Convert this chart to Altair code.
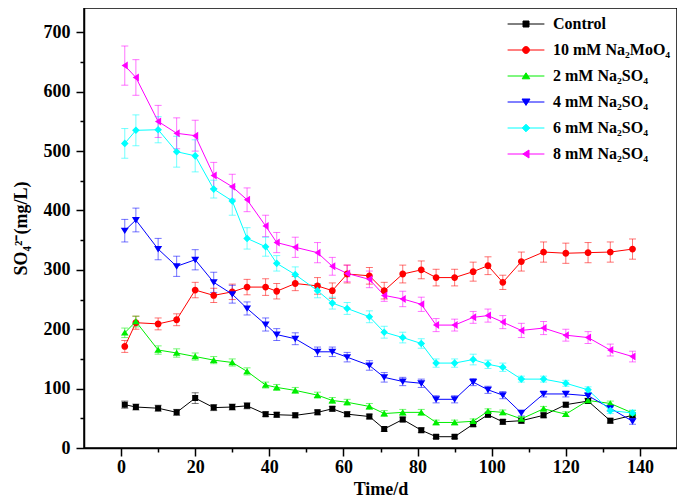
import altair as alt
import pandas as pd

TIME = [1, 4, 10, 15, 20, 25, 30, 34, 39, 42, 47, 53, 57, 61, 67, 71, 76, 81, 85,
        90, 95, 99, 103, 108, 114, 120, 126, 132, 138]

SERIES = ["Control", "10 mM Na₂MoO₄", "2 mM Na₂SO₄", "4 mM Na₂SO₄",
          "6 mM Na₂SO₄", "8 mM Na₂SO₄"]

CONTROL = [73, 69, 67, 60, 84, 68, 69, 71, 57, 56, 55, 60, 66, 57, 53, 32, 48, 30, 19,
           19, 40, 56, 44, 46, 55, 73, 79, 46, 55]
CONTROL_ERR = [6, 5, 5, 5, 9, 5, 5, 5, 4, 4, 4, 4, 4, 4, 4, 4, 4, 4, 3,
               3, 4, 4, 4, 4, 4, 4, 4, 4, 4]

MOO4 = [171, 211, 209, 216, 266, 257, 263, 271, 271, 264, 277, 273, 265, 293, 290, 265,
        293, 300, 287, 287, 297, 307, 279, 314, 330, 328, 329, 330, 335]
MOO4_ERR = [10, 11, 10, 10, 13, 12, 13, 13, 14, 13, 12, 14, 13, 15, 14, 14,
            15, 15, 14, 14, 16, 15, 12, 16, 17, 17, 17, 17, 17]

SO4_2 = [194, 213, 165, 160, 154, 148, 144, 129, 106, 102, 97, 89, 80, 77, 70, 58,
         60, 60, 43, 43, 45, 62, 60, 49, 66, 57, 80, 75, 59]
SO4_2_ERR = [8, 9, 7, 7, 6, 6, 6, 6, 5, 5, 5, 5, 5, 5, 5, 5,
             5, 5, 4, 4, 4, 4, 4, 4, 4, 4, 4, 4, 4]

SO4_4 = [366, 384, 335, 306, 317, 279, 259, 235, 208, 191, 184, 162, 162, 153, 139, 119,
         112, 109, 82, 82, 111, 98, 89, 59, 91, 91, 88, 67, 45]
SO4_4_ERR = [19, 20, 18, 17, 17, 17, 15, 11, 11, 10, 10, 8, 8, 8, 8, 8,
             7, 7, 6, 6, 6, 6, 6, 5, 5, 5, 5, 5, 5]

SO4_6 = [513, 535, 536, 499, 492, 436, 416, 353, 339, 311, 292, 265, 244, 235, 221, 195,
         186, 176, 143, 143, 149, 141, 136, 116, 116, 109, 98, 63, 59]
SO4_6_ERR = [25, 26, 22, 26, 27, 15, 24, 18, 16, 13, 13, 12, 10, 10, 10, 10,
             9, 8, 7, 7, 9, 7, 7, 5, 5, 5, 5, 5, 5]

SO4_8 = [644, 624, 550, 530, 526, 459, 440, 418, 374, 346, 338, 329, 306, 294, 284, 257,
         251, 242, 207, 207, 220, 223, 212, 198, 202, 190, 186, 165, 154]
SO4_8_ERR = [33, 30, 27, 26, 26, 22, 21, 20, 18, 17, 17, 17, 15, 14, 14, 10,
             13, 12, 11, 10, 10, 11, 11, 12, 11, 10, 10, 10, 9]

COLORS = ["#000000", "#ff0000", "#00ee00", "#0000ff", "#00ffff", "#ff00ff"]

# marker outlines (unit coordinates, scaled by the mark size); the leading open
# segment is only visible where the symbol is stroked (the legend entries)
LEG = "M-4.6,0H4.6"
SHAPES = [
    LEG + "M-0.75,-0.75H0.75V0.75H-0.75Z",
    LEG + "M-0.85,0A0.85,0.85,0,1,1,0.85,0A0.85,0.85,0,1,1,-0.85,0Z",
    LEG + "M0,-0.8L0.95,0.7H-0.95Z",
    LEG + "M0,0.85L1,-0.75H-1Z",
    LEG + "M0,-0.95L0.95,0L0,0.95L-0.95,0Z",
    LEG + "M-0.8,0L0.75,-1V1Z",
]

VALUES = [CONTROL, MOO4, SO4_2, SO4_4, SO4_6, SO4_8]
ERRORS = [CONTROL_ERR, MOO4_ERR, SO4_2_ERR, SO4_4_ERR, SO4_6_ERR, SO4_8_ERR]

rows = []
for k, (name, vals, errs) in enumerate(zip(SERIES, VALUES, ERRORS)):
    for t, v, e in zip(TIME, vals, errs):
        rows.append({"series": name, "order": k, "time": t, "value": v,
                     "lo": v - e, "hi": v + e})
df = pd.DataFrame(rows)

FONT = "Liberation Serif"
Y_TITLE = "SO₄²⁻(mg/L)"

color_scale = alt.Scale(domain=SERIES, range=COLORS)
shape_scale = alt.Scale(domain=SERIES, range=SHAPES)
y_scale = alt.Scale(domain=[0, 741], nice=False, zero=False)

x_axis = alt.Axis(
    values=list(range(0, 141, 10)),
    labelExpr="datum.value % 20 === 0 ? datum.label : ''",
    tickSize={"condition": {"test": "datum.value % 20 === 0", "value": 8}, "value": 4},
    labelPadding=2, titlePadding=4, labelOverlap=False,
)
y_axis = alt.Axis(
    values=list(range(0, 701, 50)),
    labelExpr="datum.value % 100 === 0 ? datum.label : ''",
    tickSize={"condition": {"test": "datum.value % 100 === 0", "value": 8}, "value": 4},
    labelPadding=6, titlePadding=13, labelOverlap=False,
)

X = alt.X("time:Q", scale=alt.Scale(domain=[-10, 150], nice=False, zero=False),
          axis=x_axis, title="Time/d")

legend = alt.Legend(
    orient="none", legendX=434, legendY=8, title=None,
    labelFont=FONT, labelFontWeight="bold", labelFontSize=16, labelColor="black",
    symbolSize=64, symbolOffset=0, labelOffset=19, rowPadding=10, padding=0,
    symbolStrokeWidth=1, symbolOpacity=1,
)


def Y(field):
    return alt.Y(field, scale=y_scale, axis=y_axis, title=Y_TITLE)


def C():
    return alt.Color("series:N", scale=color_scale, legend=legend)


base = alt.Chart(df)

err_rule = base.mark_rule(strokeWidth=1, opacity=0.55).encode(
    x=X, y=Y("lo:Q"), y2="hi:Q", color=C(),
)
cap_lo = base.mark_tick(orient="horizontal", size=7, thickness=1, opacity=0.55).encode(
    x=X, y=Y("lo:Q"), color=C(),
)
cap_hi = base.mark_tick(orient="horizontal", size=7, thickness=1, opacity=0.55).encode(
    x=X, y=Y("hi:Q"), color=C(),
)

lines = base.mark_line(strokeWidth=1).encode(
    x=X, y=Y("value:Q"), color=C(), detail="series:N", order="time:Q",
)

points = base.mark_point(filled=True, size=64, opacity=1).encode(
    x=X, y=Y("value:Q"),
    color=C(),
    shape=alt.Shape("series:N", scale=shape_scale, legend=legend),
    strokeWidth=alt.value(0),
)

chart = alt.layer(err_rule, cap_lo, cap_hi, lines, points).properties(
    width=593, height=440,
    autosize=alt.AutoSizeParams(type="none"),
    padding={"left": 76, "top": 0, "right": 0, "bottom": 56},
).configure_view(
    stroke="black", strokeWidth=1.5,
).configure_axis(
    grid=False, domainColor="black", domainWidth=1.5,
    tickColor="black", tickWidth=1.5,
    labelFont=FONT, labelFontWeight="bold", labelFontSize=18, labelColor="black",
    titleFont=FONT, titleFontWeight="bold", titleFontSize=18, titleColor="black",
)

chart.save("out.html", embed_options={"renderer": "svg", "actions": False})
